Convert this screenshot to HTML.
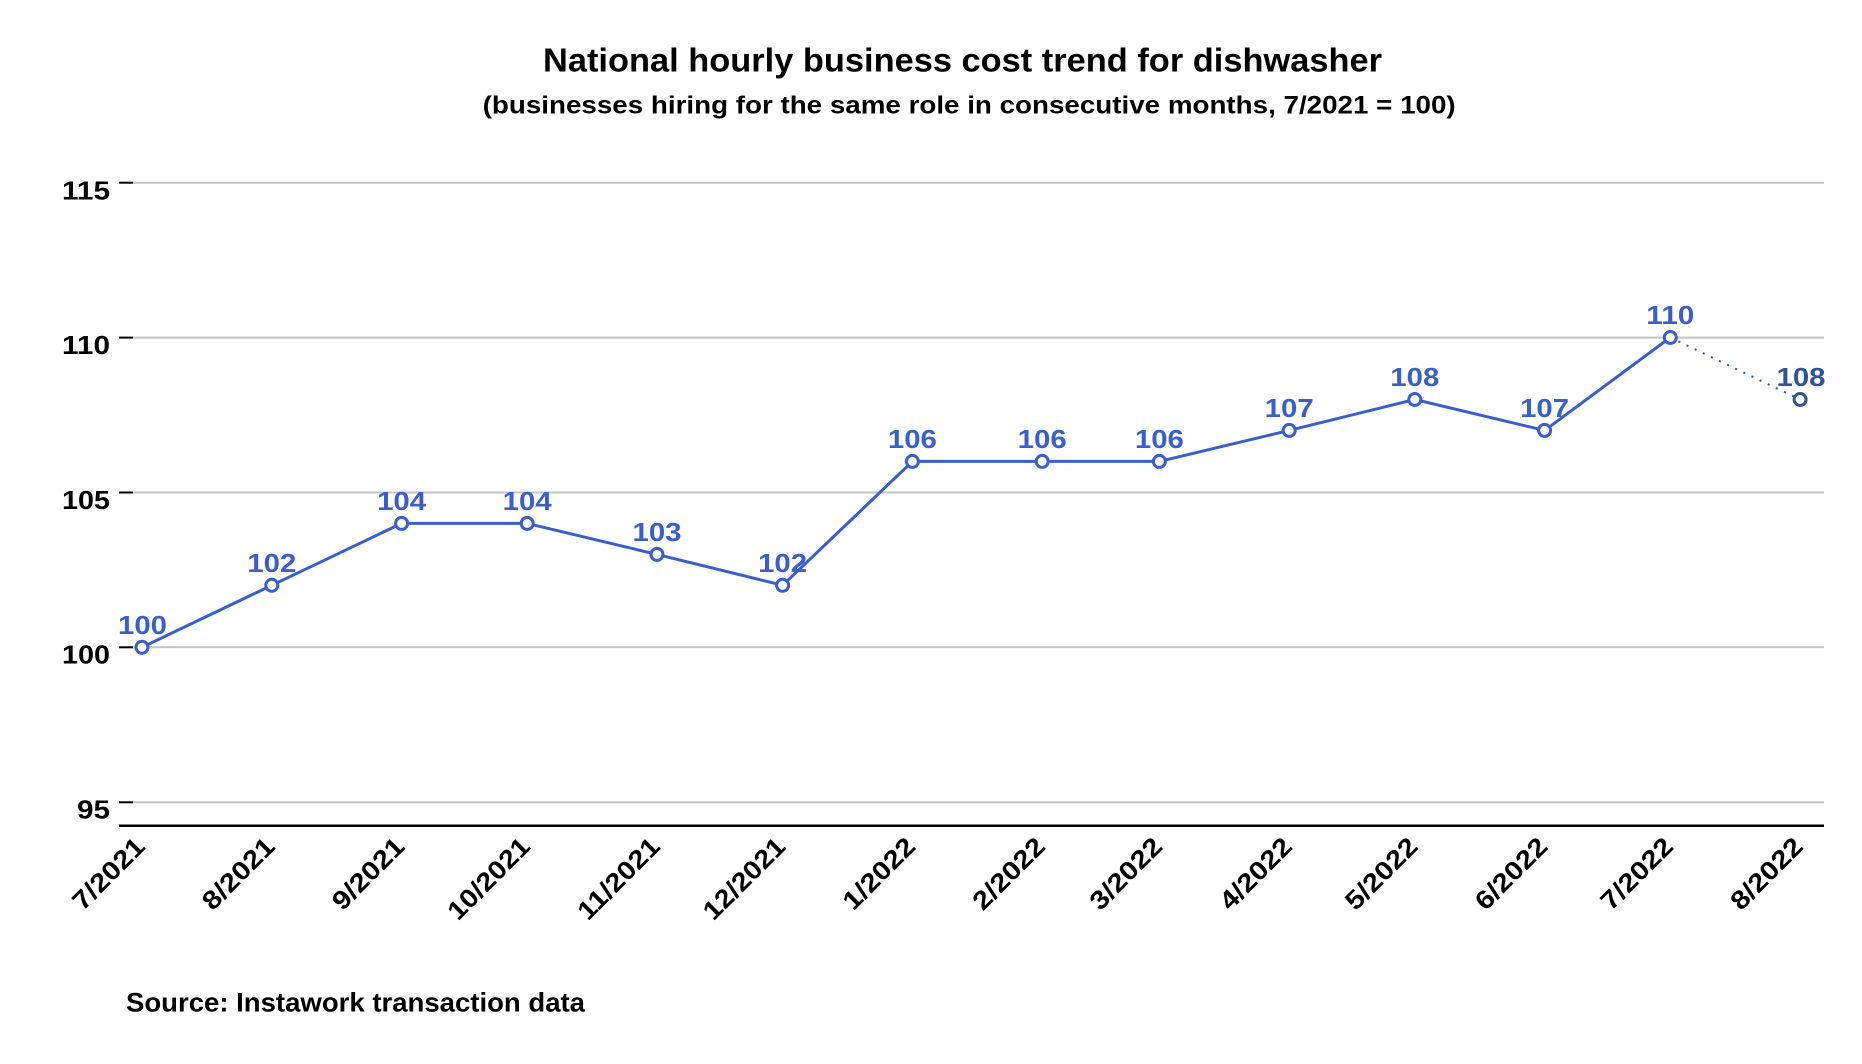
<!DOCTYPE html>
<html>
<head>
<meta charset="utf-8">
<style>
  html, body { margin: 0; padding: 0; background: #ffffff; }
  svg { display: block; }
  text { font-family: "Liberation Sans", "DejaVu Sans", sans-serif; font-weight: bold; }
</style>
</head>
<body>
<svg width="1862" height="1064" viewBox="0 0 1862 1064" xmlns="http://www.w3.org/2000/svg">
  <rect width="1862" height="1064" fill="#ffffff"/>

  <!-- Title -->
  <text x="543" y="71.7" font-size="33" fill="#000" textLength="839" lengthAdjust="spacingAndGlyphs">National hourly business cost trend for dishwasher</text>
  <text x="482.7" y="113.3" font-size="25" fill="#000" textLength="973" lengthAdjust="spacingAndGlyphs">(businesses hiring for the same role in consecutive months, 7/2021 = 100)</text>

  <!-- Gridlines -->
  <g stroke="#c4c4c4" stroke-width="2">
    <line x1="133" y1="182.7" x2="1824" y2="182.7"/>
    <line x1="133" y1="337.6" x2="1824" y2="337.6"/>
    <line x1="133" y1="492.5" x2="1824" y2="492.5"/>
    <line x1="133" y1="647.3" x2="1824" y2="647.3"/>
    <line x1="133" y1="802.3" x2="1824" y2="802.3"/>
  </g>
  <!-- Ticks -->
  <g stroke="#000" stroke-width="2">
    <line x1="119" y1="182.7" x2="133" y2="182.7"/>
    <line x1="119" y1="337.6" x2="133" y2="337.6"/>
    <line x1="119" y1="492.5" x2="133" y2="492.5"/>
    <line x1="119" y1="647.3" x2="133" y2="647.3"/>
    <line x1="119" y1="802.3" x2="133" y2="802.3"/>
  </g>
  <!-- X axis -->
  <line x1="119" y1="825.7" x2="1824" y2="825.7" stroke="#000" stroke-width="2.5"/>

  <!-- Y labels -->
  <g font-size="26" fill="#000" text-anchor="end">
    <text x="110" y="199.3" textLength="48" lengthAdjust="spacingAndGlyphs">115</text>
    <text x="110" y="354" textLength="48" lengthAdjust="spacingAndGlyphs">110</text>
    <text x="110" y="508.8" textLength="48" lengthAdjust="spacingAndGlyphs">105</text>
    <text x="110" y="663.3" textLength="48" lengthAdjust="spacingAndGlyphs">100</text>
    <text x="110" y="818.3" textLength="33" lengthAdjust="spacingAndGlyphs">95</text>
  </g>

  <!-- X labels -->
  <g font-size="26" fill="#000" text-anchor="end">
    <text transform="translate(146.5,848) rotate(-45)" textLength="90" lengthAdjust="spacingAndGlyphs">7/2021</text>
    <text transform="translate(276.3,848) rotate(-45)" textLength="90" lengthAdjust="spacingAndGlyphs">8/2021</text>
    <text transform="translate(406.1,848) rotate(-45)" textLength="90" lengthAdjust="spacingAndGlyphs">9/2021</text>
    <text transform="translate(531.7,848) rotate(-45)" textLength="104" lengthAdjust="spacingAndGlyphs">10/2021</text>
    <text transform="translate(661.5,848) rotate(-45)" textLength="104" lengthAdjust="spacingAndGlyphs">11/2021</text>
    <text transform="translate(787.1,848) rotate(-45)" textLength="104" lengthAdjust="spacingAndGlyphs">12/2021</text>
    <text transform="translate(916.9,848) rotate(-45)" textLength="90" lengthAdjust="spacingAndGlyphs">1/2022</text>
    <text transform="translate(1046.7,848) rotate(-45)" textLength="90" lengthAdjust="spacingAndGlyphs">2/2022</text>
    <text transform="translate(1163.9,848) rotate(-45)" textLength="90" lengthAdjust="spacingAndGlyphs">3/2022</text>
    <text transform="translate(1293.7,848) rotate(-45)" textLength="90" lengthAdjust="spacingAndGlyphs">4/2022</text>
    <text transform="translate(1419.3,848) rotate(-45)" textLength="90" lengthAdjust="spacingAndGlyphs">5/2022</text>
    <text transform="translate(1549.1,848) rotate(-45)" textLength="90" lengthAdjust="spacingAndGlyphs">6/2022</text>
    <text transform="translate(1674.8,848) rotate(-45)" textLength="90" lengthAdjust="spacingAndGlyphs">7/2022</text>
    <text transform="translate(1804.6,848) rotate(-45)" textLength="90" lengthAdjust="spacingAndGlyphs">8/2022</text>
  </g>

  <!-- Data labels -->
  <g font-size="26" fill="#3a5fcd" text-anchor="middle">
    <text x="142.5" y="633.8" textLength="49" lengthAdjust="spacingAndGlyphs">100</text>
    <text x="271.8" y="571.8" textLength="49" lengthAdjust="spacingAndGlyphs">102</text>
    <text x="401.6" y="509.9" textLength="49" lengthAdjust="spacingAndGlyphs">104</text>
    <text x="527.2" y="509.9" textLength="49" lengthAdjust="spacingAndGlyphs">104</text>
    <text x="657.0" y="540.9" textLength="49" lengthAdjust="spacingAndGlyphs">103</text>
    <text x="782.6" y="571.8" textLength="49" lengthAdjust="spacingAndGlyphs">102</text>
    <text x="912.4" y="447.9" textLength="49" lengthAdjust="spacingAndGlyphs">106</text>
    <text x="1042.2" y="447.9" textLength="49" lengthAdjust="spacingAndGlyphs">106</text>
    <text x="1159.4" y="447.9" textLength="49" lengthAdjust="spacingAndGlyphs">106</text>
    <text x="1289.2" y="416.9" textLength="49" lengthAdjust="spacingAndGlyphs">107</text>
    <text x="1414.8" y="386" textLength="49" lengthAdjust="spacingAndGlyphs">108</text>
    <text x="1544.6" y="416.9" textLength="49" lengthAdjust="spacingAndGlyphs">107</text>
    <text x="1670.3" y="324" textLength="48" lengthAdjust="spacingAndGlyphs">110</text>
    <text x="1801" y="386" textLength="49" lengthAdjust="spacingAndGlyphs" fill="#2f5597">108</text>
  </g>

  <!-- Dotted last segment -->
  <line x1="1670.3" y1="337.5" x2="1800.1" y2="399.5" stroke="#2f5597" stroke-width="2" stroke-dasharray="2,7"/>

  <!-- Main line -->
  <polyline fill="none" stroke="#3a5fcd" stroke-width="3" stroke-linejoin="round"
    points="142,647.3 271.8,585.3 401.6,523.4 527.2,523.4 657.0,554.4 782.6,585.3 912.4,461.4 1042.2,461.4 1159.4,461.4 1289.2,430.4 1414.8,399.5 1544.6,430.4 1670.3,337.5"/>

  <!-- Markers -->
  <g fill="#ffffff" stroke="#3a5fcd" stroke-width="3">
    <circle cx="142" cy="647.3" r="6"/>
    <circle cx="271.8" cy="585.3" r="6"/>
    <circle cx="401.6" cy="523.4" r="6"/>
    <circle cx="527.2" cy="523.4" r="6"/>
    <circle cx="657.0" cy="554.4" r="6"/>
    <circle cx="782.6" cy="585.3" r="6"/>
    <circle cx="912.4" cy="461.4" r="6"/>
    <circle cx="1042.2" cy="461.4" r="6"/>
    <circle cx="1159.4" cy="461.4" r="6"/>
    <circle cx="1289.2" cy="430.4" r="6"/>
    <circle cx="1414.8" cy="399.5" r="6"/>
    <circle cx="1544.6" cy="430.4" r="6"/>
    <circle cx="1670.3" cy="337.5" r="6"/>
  </g>
  <circle cx="1800.1" cy="399.5" r="6" fill="#ffffff" stroke="#2f5597" stroke-width="3"/>

  <!-- Source -->
  <text x="126" y="1011.7" font-size="27" fill="#000" textLength="459" lengthAdjust="spacingAndGlyphs">Source: Instawork transaction data</text>
</svg>
</body>
</html>
